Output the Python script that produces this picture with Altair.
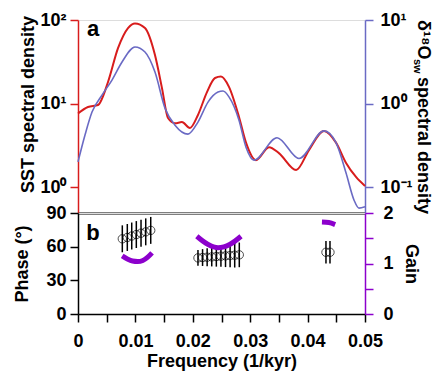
import altair as alt
import pandas as pd

RED = "#d81c1c"
BLUE = "#6a6ac4"
PURPLE = "#8c00cc"
FONT = "Liberation Sans"

# SST spectral density (left axis)
sst_f = [0.0, 0.00174, 0.00348, 0.00523, 0.00697, 0.00871, 0.00993, 0.01167, 0.01341, 0.01463,
         0.01568, 0.0169, 0.0181, 0.0195, 0.0209, 0.02247, 0.02387, 0.0249, 0.0263, 0.02805,
         0.02927, 0.0310, 0.03328, 0.0350, 0.0380, 0.04024, 0.04286, 0.04495, 0.0467, 0.04843, 0.050]
sst_v = [7.6, 9.1, 9.6, 18.1, 46.0, 80.0, 91.0, 80.0, 38.0, 15.3,
         6.7, 5.8, 6.0, 5.1, 7.3, 13.7, 20.2, 21.0, 15.8, 6.9,
         3.4, 2.1, 3.0, 2.55, 1.6, 2.77, 4.7, 3.4, 1.94, 1.32, 1.03]

# d18Osw spectral density (right axis)
d18_f = [0.0, 0.00122, 0.00244, 0.00418, 0.00592, 0.00767, 0.00993, 0.01167, 0.01341, 0.01516,
         0.0169, 0.01916, 0.0209, 0.02265, 0.02439, 0.02526, 0.0263, 0.02805, 0.02927, 0.03066,
         0.03467, 0.0385, 0.04286, 0.04495, 0.0467, 0.04808, 0.04895, 0.050]
d18_v = [0.2, 0.42, 0.79, 1.26, 1.91, 3.14, 4.75, 4.14, 2.38, 0.88,
         0.55, 0.43, 0.60, 1.04, 1.37, 1.41, 1.2, 0.63, 0.30, 0.21,
         0.39, 0.22, 0.47, 0.34, 0.147, 0.070, 0.056, 0.058]

# Phase with error bars
ph_f = [0.00772, 0.00859, 0.00936, 0.01016, 0.01098, 0.0118, 0.01267,
        0.0209, 0.0217, 0.0225, 0.0233, 0.0241, 0.0249, 0.0257, 0.0265, 0.0273, 0.0281,
        0.0432, 0.0439]
ph_v = [67.0, 68.2, 69.5, 70.8, 72.0, 73.2, 74.5,
        50.0, 50.3, 50.6, 50.9, 51.2, 51.5, 51.8, 52.1, 52.4, 52.7,
        55.0, 55.0]
ph_err = [12, 12, 12, 12, 12, 12, 12,
          7, 7.5, 8, 8.5, 9, 9.5, 10, 10.5, 11, 11,
          10, 10]

# Gain arcs
gain_grp = ["g1"] * 7 + ["g2"] * 5 + ["g3"] * 3
gain_f = [0.0077, 0.0086, 0.0095, 0.0104, 0.0113, 0.0121, 0.0129,
          0.0207, 0.0226, 0.0244, 0.0265, 0.0284,
          0.0425, 0.0437, 0.0448]
gain_v = [1.15, 1.09, 1.05, 1.04, 1.06, 1.12, 1.21,
          1.54, 1.38, 1.31, 1.38, 1.54,
          1.82, 1.81, 1.77]

# Right-hand title pieces (δ18O, subscript sw, rest)
rt_text = ["δ¹⁸O", "sw", "spectral density"]

sst = pd.DataFrame({"f": sst_f, "v": sst_v})
d18 = pd.DataFrame({"f": d18_f, "v": d18_v})
ph = pd.DataFrame({"f": ph_f, "p": ph_v,
                   "lo": [p - e for p, e in zip(ph_v, ph_err)],
                   "hi": [p + e for p, e in zip(ph_v, ph_err)]})
gain = pd.DataFrame({"g": gain_grp, "f": gain_f, "v": gain_v})

W, H1, H2 = 287, 193, 101
xs = alt.Scale(domain=[0, 0.05], nice=False)
common_axis = dict(labelFont=FONT, titleFont=FONT, labelFontSize=18, titleFontSize=18,
                   labelFontWeight="bold", titleFontWeight="bold", labelColor="black",
                   titleColor="black", grid=False, tickSize=8, tickWidth=1.5,
                   domainWidth=1.5)

top_x = alt.X("f:Q", scale=xs, axis=alt.Axis(labels=False, ticks=False, title=None,
                                              domainColor="black", domainWidth=2, grid=False))

red = alt.Chart(sst).mark_line(color=RED, strokeWidth=2, interpolate="monotone").encode(
    x=top_x,
    y=alt.Y("v:Q", scale=alt.Scale(type="log", domain=[0.489, 100], nice=False),
            axis=alt.Axis(orient="left", values=[1, 10, 100], domainColor=RED, tickColor=RED,
                          labelExpr="datum.value >= 100 ? '10²' : datum.value >= 10 ? '10¹' : '10⁰'",
                          title="SST spectral density", titlePadding=2, titleY=84,
                          labelPadding=4, **common_axis)),
)
blue = alt.Chart(d18).mark_line(color=BLUE, strokeWidth=1.6, interpolate="monotone").encode(
    x=top_x,
    y=alt.Y("v:Q", scale=alt.Scale(type="log", domain=[0.0489, 10], nice=False),
            axis=alt.Axis(orient="right", values=[0.1, 1, 10], domainColor=BLUE, tickColor=BLUE,
                          labelExpr="datum.value >= 10 ? '10¹' : datum.value >= 1 ? '10⁰' : '10⁻¹'",
                          title=None, labelPadding=7, **common_axis)),
)
a_lab = alt.Chart(pd.DataFrame({"t": ["a"]})).mark_text(
    font=FONT, fontSize=22, fontWeight="bold", align="center", baseline="middle", color="black"
).encode(text="t:N", x=alt.value(15), y=alt.value(9))

rt_df = pd.DataFrame({"t": rt_text})
rt1 = alt.Chart(rt_df).transform_filter(alt.datum.t == rt_text[0]).mark_text(
    font=FONT, fontSize=18, fontWeight="bold", align="left", baseline="alphabetic", angle=90,
    color="black").encode(text="t:N", x=alt.value(W + 53), y=alt.value(0))
rt2 = alt.Chart(rt_df).transform_filter(alt.datum.t == rt_text[1]).mark_text(
    font=FONT, fontSize=11, fontWeight="bold", align="left", baseline="alphabetic", angle=90,
    color="black").encode(text="t:N", x=alt.value(W + 49), y=alt.value(39))
rt3 = alt.Chart(rt_df).transform_filter(alt.datum.t == rt_text[2]).mark_text(
    font=FONT, fontSize=18, fontWeight="bold", align="left", baseline="alphabetic", angle=90,
    color="black").encode(text="t:N", x=alt.value(W + 53), y=alt.value(57))

top = alt.layer(red, blue, a_lab, rt1, rt2, rt3).resolve_scale(y="independent").properties(
    width=W, height=H1)

bx = alt.X("f:Q", scale=xs, axis=alt.Axis(values=[i * 0.005 for i in range(11)], format=".2~f",
                                           labelExpr="abs(datum.value*100 - round(datum.value*100)) < 1e-6 ? datum.label : ''",
                                           labelFlush=False,
                                           title="Frequency (1/kyr)", domainColor="black",
                                           tickColor="black", titlePadding=2, labelPadding=10,
                                           **common_axis))
py_axis = alt.Axis(orient="left", values=[0, 30, 60, 90], domainColor="black", tickColor="black",
                   title="Phase (°)", titlePadding=14, labelPadding=4, **common_axis)
pscale = alt.Scale(domain=[0, 90], nice=False)
bars = alt.Chart(ph).mark_rule(color="black", strokeWidth=1.5).encode(
    x=bx, y=alt.Y("lo:Q", scale=pscale, axis=py_axis), y2="hi:Q")
pts = alt.Chart(ph).mark_point(shape="circle", filled=False, color="black", size=70, strokeWidth=1).encode(
    x=bx, y=alt.Y("p:Q", scale=pscale, axis=py_axis))
phase = alt.layer(bars, pts)
gl = alt.Chart(gain).mark_line(color=PURPLE, strokeWidth=5, interpolate="monotone").encode(
    x=bx,
    y=alt.Y("v:Q", scale=alt.Scale(domain=[0, 2], nice=False),
            axis=alt.Axis(orient="right", values=[0, 0.5, 1, 1.5, 2], domainColor=PURPLE,
                          tickColor=PURPLE,
                          labelExpr="datum.value % 1 == 0 ? format(datum.value, 'd') : ''",
                          title="Gain", titlePadding=8, labelPadding=10, **common_axis)),
    detail="g:N")
b_lab = alt.Chart(pd.DataFrame({"t": ["b"]})).mark_text(
    font=FONT, fontSize=22, fontWeight="bold", align="center", baseline="middle", color="black"
).encode(text="t:N", x=alt.value(15), y=alt.value(20))

bottom = alt.layer(phase, gl, b_lab).resolve_scale(y="independent").properties(width=W, height=H2)

chart = alt.vconcat(top, bottom, spacing=0, bounds="flush").configure_view(stroke=None).configure(
    background="white", padding={"left": 5, "top": 2, "right": 0, "bottom": 0})

chart.save("out.html", embed_options={"renderer": "svg", "actions": False})
